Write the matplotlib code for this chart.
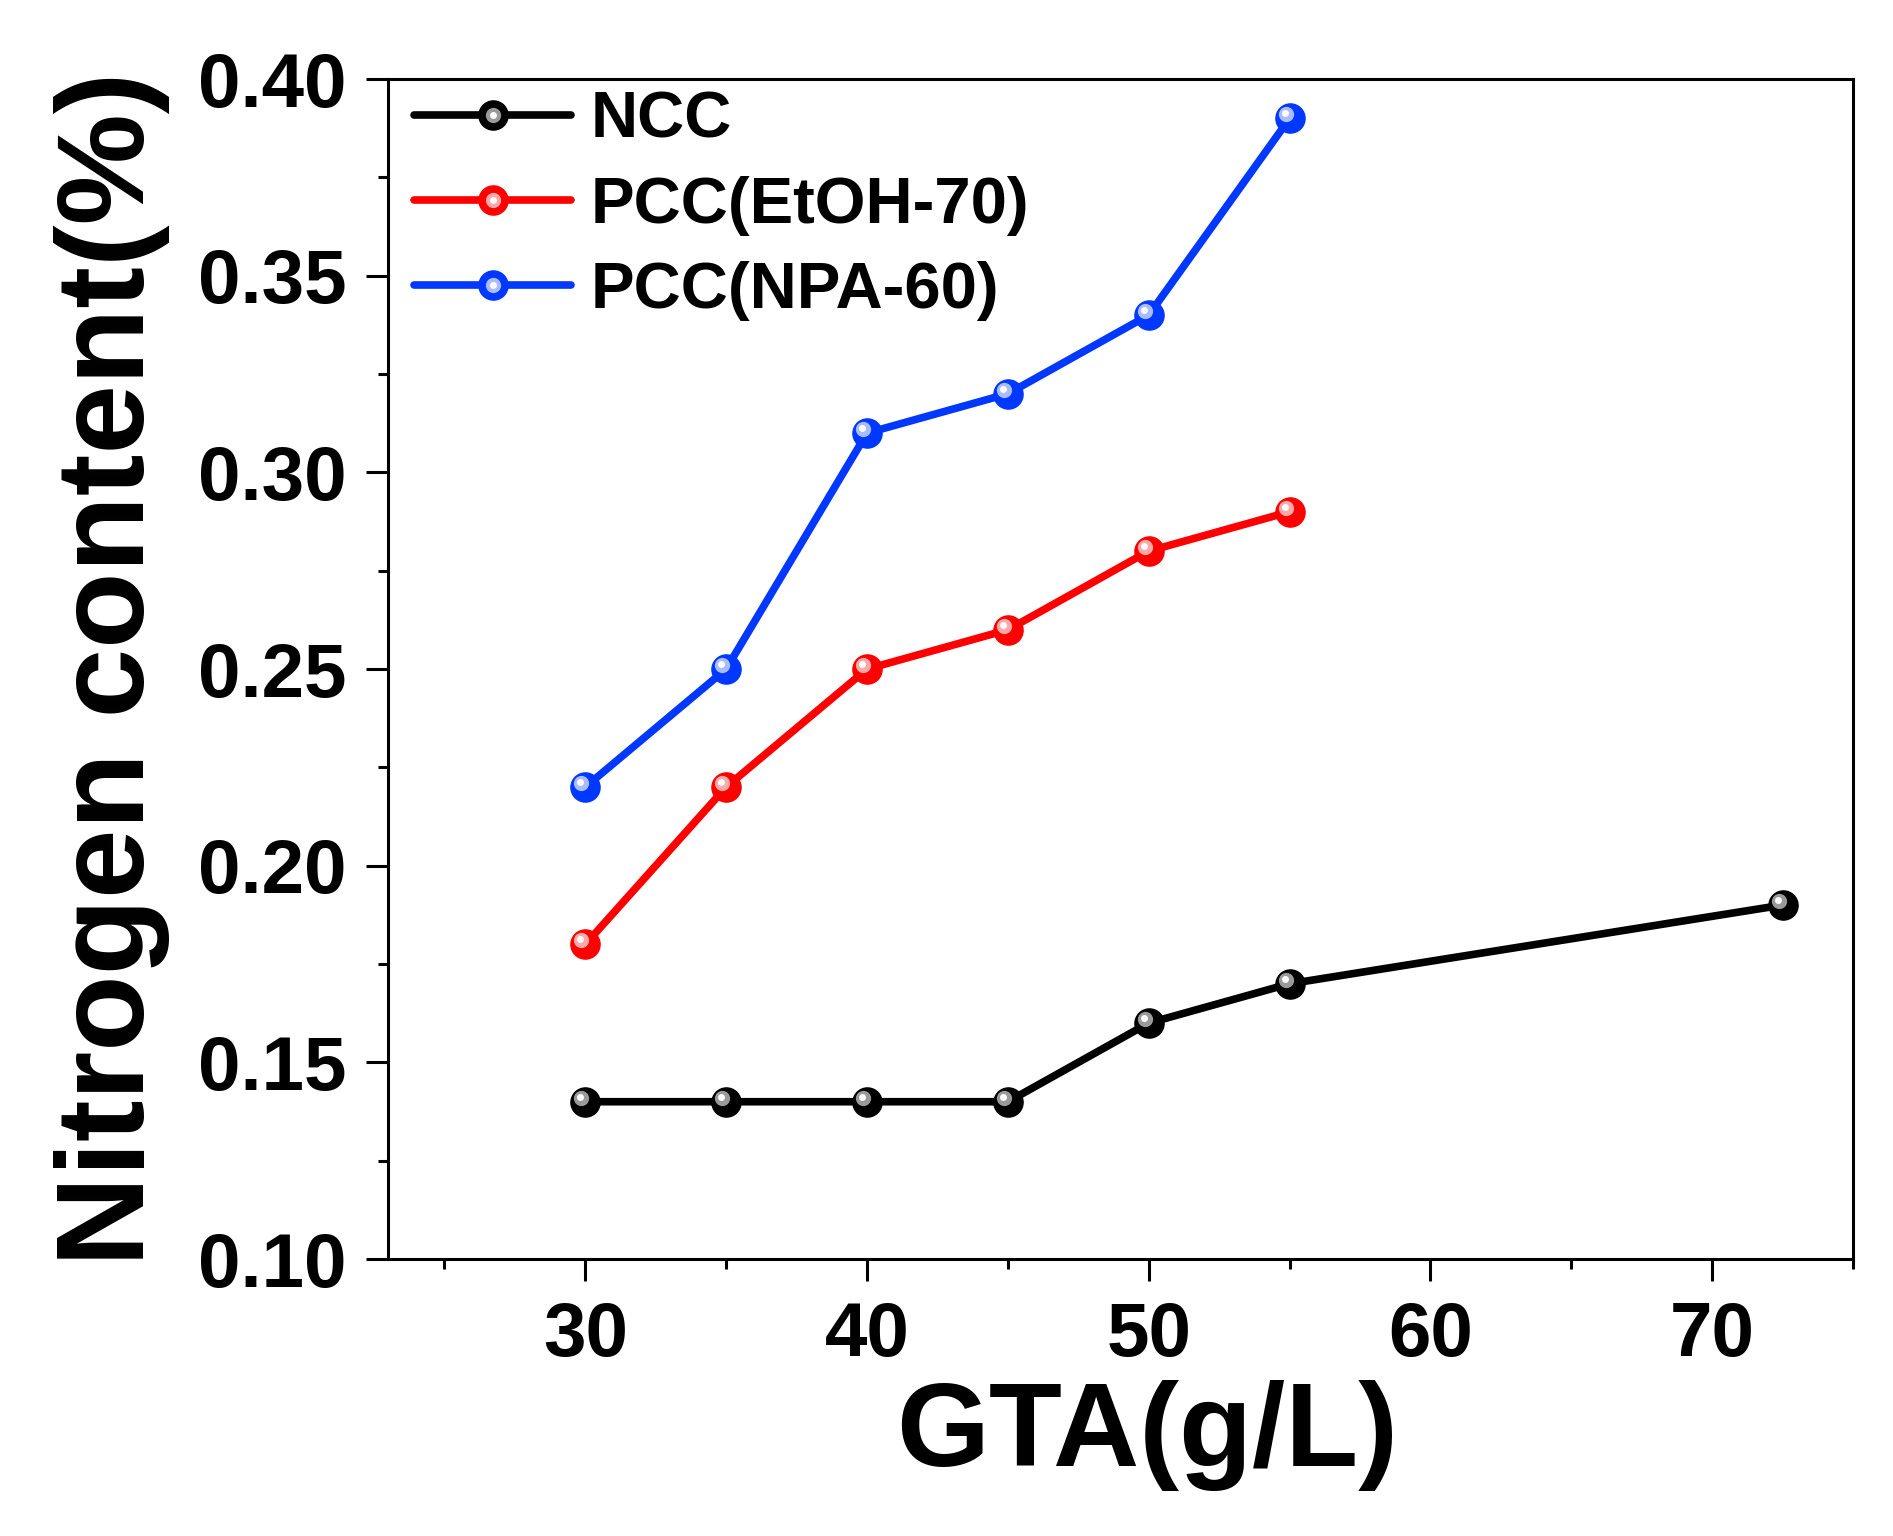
import numpy as np
import matplotlib
matplotlib.use("Agg")
import matplotlib.pyplot as plt
from matplotlib.transforms import offset_copy
from matplotlib.legend_handler import HandlerTuple
from matplotlib.ticker import MultipleLocator

plt.rcParams['font.family'] = ['Liberation Sans', 'DejaVu Sans']
plt.rcParams['font.weight'] = 'bold'

# data
ncc_x = [30, 35, 40, 45, 50, 55, 72.5]
ncc_y = [0.14, 0.14, 0.14, 0.14, 0.16, 0.17, 0.19]
pcc_x = [30, 35, 40, 45, 50, 55]
etoh_y = [0.18, 0.22, 0.25, 0.26, 0.28, 0.29]
npa_y = [0.22, 0.25, 0.31, 0.32, 0.34, 0.39]

labels = ['NCC', 'PCC(EtOH-70)', 'PCC(NPA-60)']
colors = ['#000000', '#ff0000', '#0038ff']
shine1 = ['#9a9a9a', '#ffa8a8', '#a8bcff']
shine2 = ['#ffffff', '#ffffff', '#ffffff']

fig = plt.figure(figsize=(18.93, 15.36), dpi=100)
ax = fig.add_axes([0.2050, 0.1803, 0.7739, 0.7682])

hl_a = offset_copy(ax.transData, fig=fig, x=-4, y=4, units='dots')
hl_b = offset_copy(ax.transData, fig=fig, x=-5, y=5, units='dots')

handles = []
for xs, ys, c, s1, s2 in zip([ncc_x, pcc_x, pcc_x], [ncc_y, etoh_y, npa_y],
                             colors, shine1, shine2):
    ln, = ax.plot(xs, ys, '-o', color=c, lw=5.5, ms=21, mec=c, mfc=c,
                  solid_capstyle='round', zorder=3)
    h1, = ax.plot(xs, ys, 'o', ls='none', ms=11, mfc=s1, mec='none',
                  transform=hl_a, zorder=4)
    h2, = ax.plot(xs, ys, 'o', ls='none', ms=5, mfc=s2, mec='none',
                  transform=hl_b, zorder=5)
    handles.append((ln, h1, h2))

ax.set_xlim(23, 75)
ax.set_ylim(0.10, 0.40)
ax.xaxis.set_major_locator(MultipleLocator(10))
ax.xaxis.set_minor_locator(MultipleLocator(5))
ax.yaxis.set_minor_locator(MultipleLocator(0.025))
yticks = np.arange(0.10, 0.401, 0.05)
ax.set_yticks(yticks)
ax.set_yticklabels([f'{v:.2f}' for v in yticks])

ax.tick_params(which='major', direction='out', length=16, width=2.2,
               labelsize=55, pad=14)
ax.tick_params(which='minor', direction='out', length=7, width=2.2)
for sp in ax.spines.values():
    sp.set_linewidth(2.2)

ax.set_xlabel('GTA(g/L)', fontsize=86, fontweight='bold', labelpad=6)
ax.xaxis.label.set_x(0.518)
ax.set_ylabel('Nitrogen content(%)', fontsize=90, fontweight='bold', labelpad=20)

ax.legend(handles, labels, handler_map={tuple: HandlerTuple(ndivide=1)},
          loc='upper left', bbox_to_anchor=(0.018, 0.99), frameon=False,
          fontsize=47, handlelength=2.4, handletextpad=0.3,
          labelspacing=0.38, borderpad=0, borderaxespad=0)

fig.savefig('out.png', dpi=100)
